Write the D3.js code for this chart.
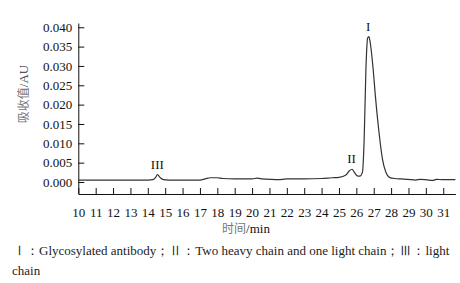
<!DOCTYPE html>
<html lang="zh">
<head>
<meta charset="UTF-8">
<title>HPLC chromatogram</title>
<style>
  body { margin: 0; background: #fff; }
  svg { display: block; }
  .axis path, .axis line { stroke: #111; stroke-width: 1; }
  .axis text { font-family: "Liberation Serif", serif; font-size: 13px; fill: #111; }
  text.peak { font-family: "Liberation Serif", serif; font-size: 13px; fill: #111; }
  text.title { font-family: "Liberation Serif", serif; font-size: 13px; fill: #111; }
  tspan.cjk { font-family: "Noto Sans CJK SC", sans-serif; fill: #777; font-size: 12px; }
  text.caption { font-family: "Liberation Serif", serif; font-size: 13px; fill: #222; }
</style>
</head>
<body>
<div id="chart"></div>
<script src="https://cdnjs.cloudflare.com/ajax/libs/d3/7.8.5/d3.min.js"></script>
<script>
// time (min) and absorbance (AU)
var times = [10, 11, 12, 13, 14, 14.3, 14.45, 14.55, 14.7, 14.9, 15.2, 16, 17, 17.3, 17.6, 18, 18.3, 19, 20, 20.3, 20.6, 21, 21.5, 22, 23, 24, 24.6, 25, 25.4, 25.6, 25.75, 25.9, 26.05, 26.2, 26.35, 26.45, 26.55, 26.65, 26.72, 26.8, 26.95, 27.1, 27.3, 27.5, 27.7, 27.9, 28.2, 28.6, 29, 29.4, 29.7, 30, 30.4, 30.6, 31, 31.7];
var absorb = [0.0005, 0.0005, 0.0005, 0.0005, 0.0005, 0.0006, 0.0012, 0.0019, 0.0012, 0.0006, 0.0005, 0.0005, 0.0005, 0.0008, 0.0011, 0.0011, 0.0009, 0.0008, 0.0008, 0.0010, 0.0008, 0.0007, 0.0006, 0.0008, 0.0008, 0.0009, 0.0011, 0.0012, 0.0018, 0.0029, 0.0033, 0.0024, 0.0016, 0.0015, 0.0025, 0.0110, 0.0290, 0.0372, 0.0376, 0.0360, 0.0300, 0.0220, 0.0130, 0.0060, 0.0025, 0.0012, 0.0009, 0.0008, 0.0007, 0.0005, 0.0007, 0.0006, 0.0004, 0.0007, 0.0006, 0.0006];
var yTicks = [0, 0.005, 0.010, 0.015, 0.020, 0.025, 0.030, 0.035, 0.040];
var xTicks = [10, 11, 12, 13, 14, 15, 16, 17, 18, 19, 20, 21, 22, 23, 24, 25, 26, 27, 28, 29, 30, 31];
var peakNames = ["I", "II", "III"];
var peakTimes = [26.68, 25.72, 14.55];
var peakLevels = [0.0376, 0.0033, 0.0019];

var W = 460, H = 283;
var svg = d3.select("#chart").append("svg").attr("width", W).attr("height", H);

var x = d3.scaleLinear().domain([10, 31.7]).range([78.3, 455.4]);
var y = d3.scaleLinear().domain([-0.0031, 0.0411]).range([194, 23]);

svg.append("g").attr("class", "axis")
  .attr("transform", "translate(0,194)")
  .call(d3.axisBottom(x).tickValues(xTicks).tickSize(-6).tickPadding(14).tickSizeOuter(0))
  .call(function(g) { g.selectAll("text").attr("dy", "0.71em"); });

svg.append("g").attr("class", "axis")
  .attr("transform", "translate(78.3,0)")
  .call(d3.axisLeft(y).tickValues(yTicks).tickSize(-6).tickPadding(6).tickSizeOuter(0).tickFormat(d3.format(".3f")));

var pts = times.map(function(t, i) { return [t, absorb[i]]; });
svg.append("path")
  .datum(pts)
  .attr("fill", "none")
  .attr("stroke", "#333")
  .attr("stroke-width", 1.2)
  .attr("d", d3.line().x(function(d) { return x(d[0]); }).y(function(d) { return y(d[1]); }).curve(d3.curveMonotoneX));

svg.selectAll("text.peak").data(peakNames).enter().append("text")
  .attr("class", "peak")
  .attr("text-anchor", "middle")
  .attr("x", function(d, i) { return x(peakTimes[i]); })
  .attr("y", function(d, i) { return y(peakLevels[i]) - 6; })
  .text(function(d) { return d; });

var yt = svg.append("text").attr("class", "title")
  .attr("transform", "translate(28,94) rotate(-90)")
  .attr("text-anchor", "middle");
yt.append("tspan").attr("class", "cjk").text("吸收值");
yt.append("tspan").attr("fill", "#555").text("/AU");

var xt = svg.append("text").attr("class", "title")
  .attr("x", 246).attr("y", 233).attr("text-anchor", "middle");
xt.append("tspan").attr("class", "cjk").text("时间");
xt.append("tspan").text("/min");

svg.append("text").attr("class", "caption").attr("x", 13).attr("y", 255)
  .text("Ⅰ：Glycosylated antibody；Ⅱ：Two heavy chain and one light chain；Ⅲ：light");
svg.append("text").attr("class", "caption").attr("x", 12).attr("y", 275).text("chain");
</script>
</body>
</html>
